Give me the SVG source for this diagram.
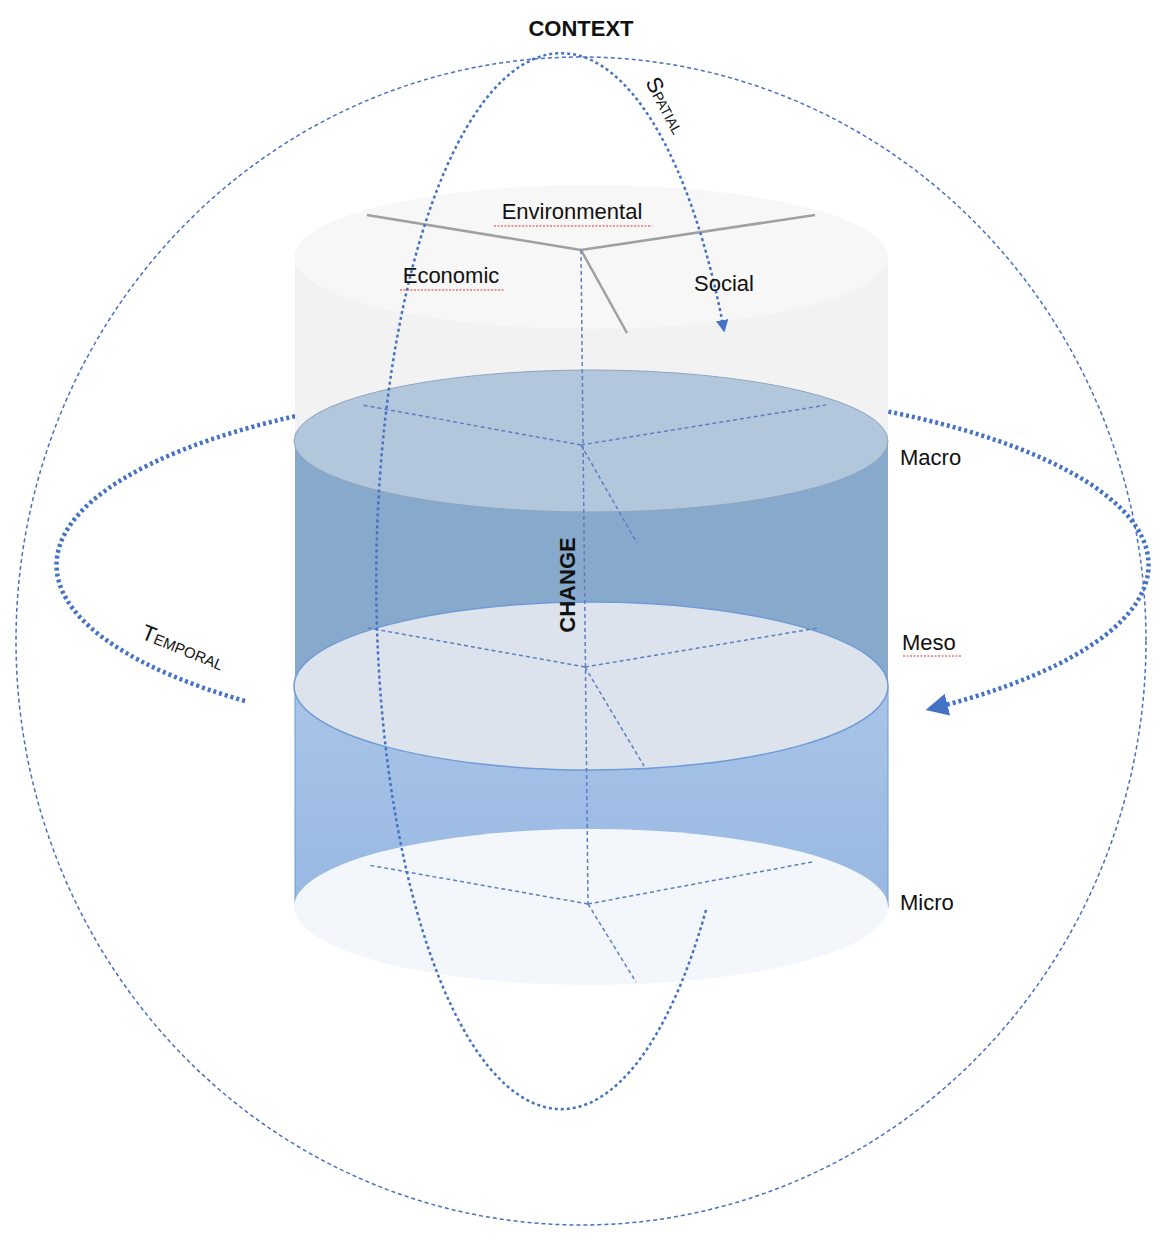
<svg xmlns="http://www.w3.org/2000/svg" width="1162" height="1242" viewBox="0 0 1162 1242">
<defs>
<style>
.t{font-family:"Liberation Sans",Arial,sans-serif;font-size:22px;fill:#111}
.b{font-weight:bold}
.br{stroke:#5b7fc4;stroke-width:1.5;stroke-dasharray:4 3;fill:none}
.gr{stroke:#a0a0a0;stroke-width:2.5;fill:none}
.sq{stroke:#e03030;stroke-width:1;fill:none;stroke-dasharray:2 1.5}
</style>
<linearGradient id="lg" x1="0" y1="0" x2="0" y2="1"><stop offset="0" stop-color="#a9c4e8"/><stop offset="1" stop-color="#98b8e2"/></linearGradient>
<marker id="ah" viewBox="0 0 10 10" refX="8" refY="5" markerWidth="5" markerHeight="5" orient="auto"><path d="M0 0L10 5L0 10z" fill="#4472c4"/></marker>
</defs>
<rect width="1162" height="1242" fill="#fff"/>
<g id="context-sphere"><ellipse cx="581" cy="641" rx="565" ry="584" fill="none" stroke="#4a6fbf" stroke-width="1.5" stroke-dasharray="4 3"/></g>
<g id="connectors">
<path id="temporal-loop" d="M245 701 A546 180 0 1 1 930 709" fill="none" stroke="#4472c4" stroke-width="4.5" stroke-dasharray="3 3" marker-end="url(#ah)"/>
</g>
<g id="cylinder">
<rect x="295" y="257" width="593" height="184" fill="#f2f2f2"/>
<ellipse cx="591" cy="257" rx="297" ry="72" fill="#f7f7f7"/>
<rect x="295" y="441" width="593" height="245" fill="#87a9cc"/>
<ellipse cx="591" cy="441" rx="297" ry="71" fill="#b3c7dc" stroke="#8fa5c0" stroke-width="1"/>
<rect x="295" y="686" width="593" height="221" fill="url(#lg)" stroke="#6f9bd6" stroke-width="1"/>
<ellipse cx="591" cy="686" rx="297" ry="84" fill="#dce3ec" stroke="#6f9bd6" stroke-width="1.5"/>
<ellipse cx="591" cy="907" rx="297" ry="78" fill="#f3f7fc"/>
</g>
<g id="branches">
<path class="gr" d="M581 250L367 215M581 250L815 215M581 250L627 333"/>
<path class="br" d="M581 250L588 905"/>
<path class="br" d="M581 445L362 405M581 445L826 405M581 445L637 543"/>
<path class="br" d="M585 667L368 628M585 667L818 628M585 667L644 766"/>
<path class="br" d="M588 904L368 865M588 904L812 862M588 904L636 982"/>
</g>
<g id="spatial-loop"><path d="M706 910 A185 528 0 1 1 724 330" fill="none" stroke="#4472c4" stroke-width="2.5" stroke-dasharray="3 3" marker-end="url(#ah)"/></g>
<g id="labels">
<text class="t b" x="581" y="36" text-anchor="middle">CONTEXT</text>
<g id="environmental"><text class="t" x="572" y="219" text-anchor="middle">Environmental</text><path class="sq" d="M494 226H652"/></g>
<g id="economic"><text class="t" x="451" y="283" text-anchor="middle">Economic</text><path class="sq" d="M400 290H504"/></g>
<g id="social"><text class="t" x="724" y="291" text-anchor="middle">Social</text></g>
<g id="macro"><text class="t" x="900" y="465">Macro</text></g>
<g id="meso"><text class="t" x="902" y="650">Meso</text><path class="sq" d="M903 656H962"/></g>
<g id="micro"><text class="t" x="900" y="910">Micro</text></g>
<text class="t b" transform="translate(575 585) rotate(-90)" text-anchor="middle">CHANGE</text>
<text class="t" transform="translate(645 82) rotate(62)" font-size="18">S<tspan font-size="14">PATIAL</tspan></text>
<text class="t" transform="translate(140 638) rotate(22)" font-size="20">T<tspan font-size="15">EMPORAL</tspan></text>
</g>
</svg>
